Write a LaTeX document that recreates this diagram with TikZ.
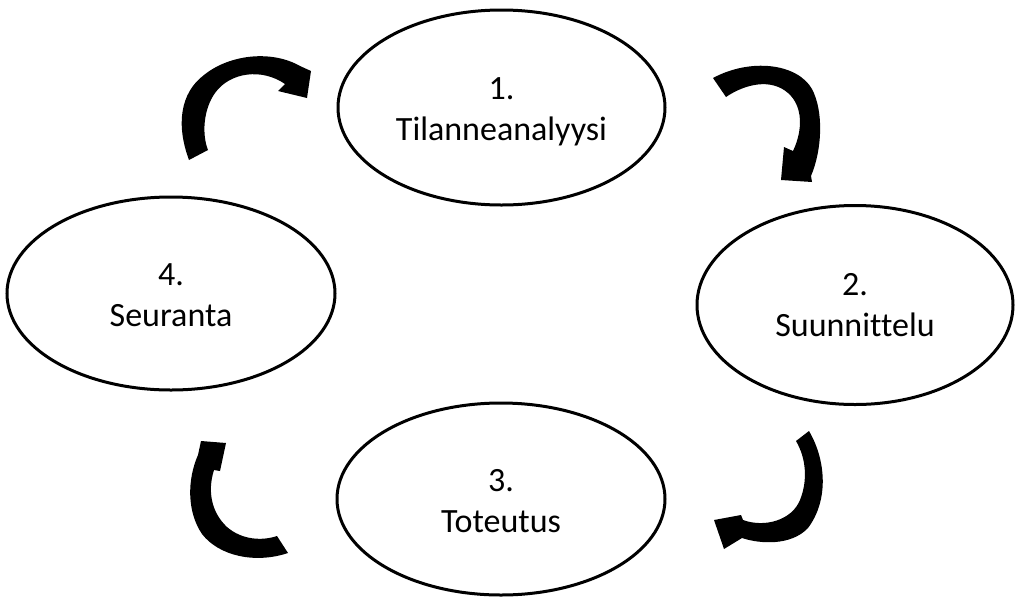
\documentclass[tikz,border=0pt]{standalone}
\usepackage{fontspec}
\setmainfont{Carlito}[Ligatures=NoCommon]
\usetikzlibrary{shapes.geometric}
\newcommand\lnstrut{\rule[-8pt]{0pt}{31pt}}
\begin{document}
\begin{tikzpicture}[x=1pt,y=-1pt,
  stage/.style={draw=black, line width=3pt, ellipse, inner sep=0pt, fill=white},
  lbl/.style={align=center, inner sep=0pt, font=\fontsize{34}{41}\selectfont},
  cyclearrow/.style={fill=black, draw=none}]
\useasboundingbox (0,0) rectangle (1015,598);
% stages
\node[stage, minimum width=327pt, minimum height=195pt] (n1) at (501.5,107.5) {};
\node[stage, minimum width=316pt, minimum height=199pt] (n2) at (855,305) {};
\node[stage, minimum width=328pt, minimum height=192pt] (n3) at (501,499) {};
\node[stage, minimum width=328pt, minimum height=193pt] (n4) at (171,293.5) {};
\node[lbl] (t1) at ([yshift=-5pt]n1.center) {\lnstrut 1.\\\lnstrut Tilanneanalyysi};
\node[lbl] (t2) at ([yshift=-3pt]n2.center) {\lnstrut 2.\\\lnstrut Suunnittelu};
\node[lbl] (t3) at ([yshift=-5pt]n3.center) {\lnstrut 3.\\\lnstrut Toteutus};
\node[lbl] (t4) at ([yshift=-5pt]n4.center) {\lnstrut 4.\\\lnstrut Seuranta};
% arrow 4 -> 1 (top left)
\fill[cyclearrow] (189,160) .. controls (176,125) and (180,93) .. (204,75)
  .. controls (230,54) and (272,50) .. (300,66)
  -- (311,71) -- (307,98) -- (278,91) -- (285,84)
  .. controls (262,68) and (230,72) .. (215,93)
  .. controls (203,110) and (202,135) .. (208,150) -- cycle;
% arrow 1 -> 2 (top right)
\fill[cyclearrow] (713,78) .. controls (750,58) and (797,63) .. (812,89)
  .. controls (824,112) and (822,150) .. (811,176)
  -- (812,182) -- (781,180) -- (784,147) -- (793,151)
  .. controls (803,130) and (803,106) .. (788,93)
  .. controls (771,78) and (745,84) .. (726,97) -- cycle;
% arrow 2 -> 3 (bottom right)
\fill[cyclearrow] (809,431) .. controls (826,460) and (829,500) .. (808,528)
  .. controls (791,546) and (760,544) .. (742,538)
  -- (724,549) -- (714,520) -- (741,515) -- (743,520)
  .. controls (765,528) and (792,520) .. (800,500)
  .. controls (808,480) and (806,458) .. (796,441) -- cycle;
% arrow 3 -> 4 (bottom left)
\fill[cyclearrow] (288,553) .. controls (255,564) and (219,556) .. (202,534)
  .. controls (187,512) and (187,480) .. (198,455)
  -- (201,441) -- (226,443) -- (220,471) -- (214,470)
  .. controls (207,492) and (212,513) .. (227,527)
  .. controls (242,540) and (262,541) .. (277,536) -- cycle;
\end{tikzpicture}
\end{document}
